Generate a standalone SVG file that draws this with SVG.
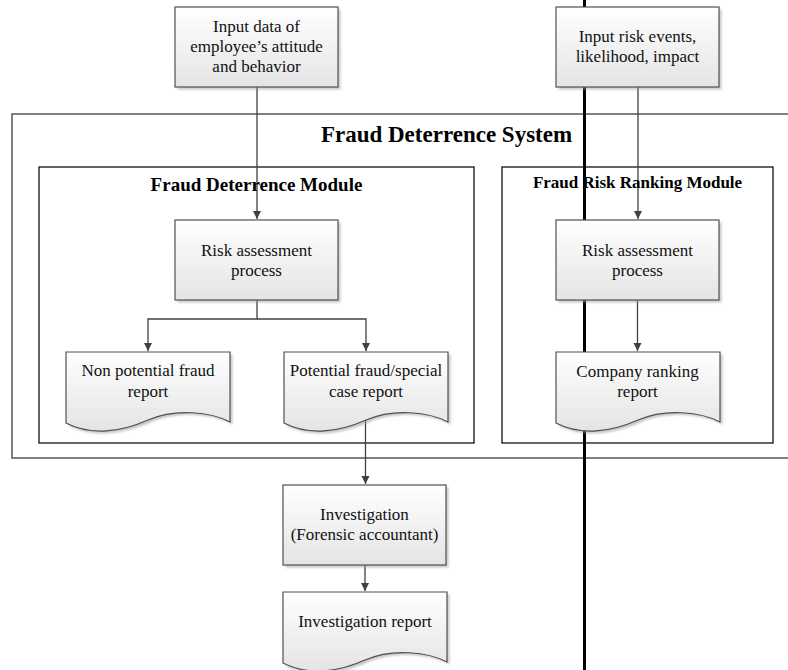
<svg xmlns="http://www.w3.org/2000/svg" width="788" height="670" viewBox="0 0 788 670">
<style>
  text { font-family: "Liberation Serif", "Times New Roman", serif; }
  .lbl { font-size: 17px; fill: #111; text-anchor: middle; }
  .ttl { font-weight: bold; fill: #000; text-anchor: middle; }
  .shape { fill: url(#grad); stroke: #505050; stroke-width: 1.2; }
  .shd { fill: #9a9a9a; opacity: 0.55; filter: url(#blur); }
  .conn { fill: none; stroke: #404040; stroke-width: 1.3; }
  .frame { fill: none; stroke: #111; stroke-width: 1.3; }
</style>
<defs>
  <linearGradient id="grad" x1="0" y1="0" x2="0" y2="1">
    <stop offset="0" stop-color="#ffffff"/>
    <stop offset="1" stop-color="#e4e4e4"/>
  </linearGradient>
  <filter id="blur" x="-10%" y="-10%" width="120%" height="120%">
    <feGaussianBlur stdDeviation="1.2"/>
  </filter>
  <marker id="arr" markerUnits="userSpaceOnUse" markerWidth="9" markerHeight="9" refX="8" refY="4" orient="auto">
    <path d="M0,0 L8,4 L0,8 Z" fill="#404040"/>
  </marker>
  <path id="doc" d="M0,0 H164 V70 C145,60 110,56 82,68 C55,80 25,84 0,71 Z"/>
  <rect id="box" width="163" height="80"/>
</defs>

<rect width="788" height="670" fill="#ffffff"/>

<!-- frames -->
<g id="fraud-deterrence-system">
  <path d="M790,114 H12 V458 H790" fill="none" stroke="#555" stroke-width="1.5"/>
  <text class="ttl" x="446.5" y="142" font-size="23">Fraud Deterrence System</text>
</g>
<g id="fraud-deterrence-module">
  <rect class="frame" x="39" y="167" width="435" height="276"/>
</g>
<g id="fraud-risk-ranking-module">
  <rect class="frame" x="502" y="167" width="271" height="276"/>
</g>

<!-- thick divider line -->
<line x1="584.5" y1="0" x2="584.5" y2="670" stroke="#000" stroke-width="3"/>

<!-- connectors -->
<g id="connectors">
  <line class="conn" x1="257" y1="87" x2="257" y2="219" marker-end="url(#arr)"/>
  <line class="conn" x1="638" y1="87" x2="638" y2="219" marker-end="url(#arr)"/>
  <path class="conn" d="M257,299 V319 H148 V351" marker-end="url(#arr)"/>
  <path class="conn" d="M257,319 H366 V351" marker-end="url(#arr)"/>
  <line class="conn" x1="637.5" y1="299" x2="637.5" y2="351" marker-end="url(#arr)"/>
  <line class="conn" x1="365.5" y1="420" x2="365.5" y2="484" marker-end="url(#arr)"/>
  <line class="conn" x1="365" y1="564" x2="365" y2="591" marker-end="url(#arr)"/>
</g>

<g id="module-titles">
  <text class="ttl" x="256.5" y="191" font-size="19">Fraud Deterrence Module</text>
  <text class="ttl" x="637.5" y="188" font-size="17">Fraud Risk Ranking Module</text>
</g>

<!-- nodes -->
<g id="input-employee" transform="translate(175,7)">
  <use href="#box" class="shd" x="2.5" y="2.5"/>
  <use href="#box" class="shape"/>
  <text class="lbl" x="81.5" y="25">Input data of</text>
  <text class="lbl" x="81.5" y="45">employee’s attitude</text>
  <text class="lbl" x="81.5" y="65">and behavior</text>
</g>
<g id="input-risk" transform="translate(556,7)">
  <use href="#box" class="shd" x="2.5" y="2.5"/>
  <use href="#box" class="shape"/>
  <text class="lbl" x="81.5" y="35">Input risk events,</text>
  <text class="lbl" x="81.5" y="55">likelihood, impact</text>
</g>
<g id="risk-assessment-left" transform="translate(175,220)">
  <use href="#box" class="shd" x="2.5" y="2.5"/>
  <use href="#box" class="shape"/>
  <text class="lbl" x="81.5" y="36">Risk assessment</text>
  <text class="lbl" x="81.5" y="56">process</text>
</g>
<g id="risk-assessment-right" transform="translate(556,220)">
  <use href="#box" class="shd" x="2.5" y="2.5"/>
  <use href="#box" class="shape"/>
  <text class="lbl" x="81.5" y="36">Risk assessment</text>
  <text class="lbl" x="81.5" y="56">process</text>
</g>
<g id="non-potential-report" transform="translate(66,352)">
  <use href="#doc" class="shd" x="2.5" y="2.5"/>
  <use href="#doc" class="shape"/>
  <text class="lbl" x="82" y="24">Non potential fraud</text>
  <text class="lbl" x="82" y="45">report</text>
</g>
<g id="potential-report" transform="translate(284,352)">
  <use href="#doc" class="shd" x="2.5" y="2.5"/>
  <use href="#doc" class="shape"/>
  <text class="lbl" x="82" y="24">Potential fraud/special</text>
  <text class="lbl" x="82" y="45">case report</text>
</g>
<g id="company-ranking-report" transform="translate(556,352)">
  <use href="#doc" class="shd" x="2.5" y="2.5"/>
  <use href="#doc" class="shape"/>
  <text class="lbl" x="81.5" y="25">Company ranking</text>
  <text class="lbl" x="81.5" y="45">report</text>
</g>
<g id="investigation" transform="translate(283,485)">
  <use href="#box" class="shd" x="2.5" y="2.5"/>
  <use href="#box" class="shape"/>
  <text class="lbl" x="81.5" y="35">Investigation</text>
  <text class="lbl" x="81.5" y="54.5">(Forensic accountant)</text>
</g>
<g id="investigation-report" transform="translate(283,592)">
  <use href="#doc" class="shd" x="2.5" y="2.5"/>
  <use href="#doc" class="shape"/>
  <text class="lbl" x="82" y="35">Investigation report</text>
</g>
</svg>
